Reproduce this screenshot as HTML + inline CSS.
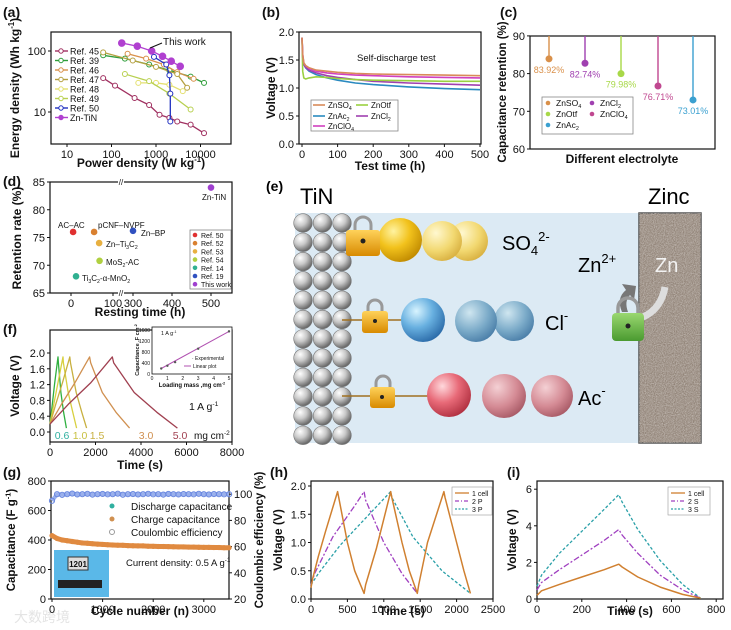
<!DOCTYPE html>
<html><head><meta charset="utf-8">
<style>
html,body{margin:0;padding:0;background:#fff;}
svg{display:block;font-family:"Liberation Sans","Noto Sans CJK SC",sans-serif;}
</style></head>
<body>
<svg id="fig" width="731" height="630" viewBox="0 0 731 630" xmlns="http://www.w3.org/2000/svg">
<defs>
<radialGradient id="gGray" cx="35%" cy="30%" r="70%"><stop offset="0" stop-color="#ffffff"/><stop offset="0.5" stop-color="#c8c8c8"/><stop offset="1" stop-color="#6a6a6a"/></radialGradient>
<radialGradient id="gYel" cx="35%" cy="30%" r="75%"><stop offset="0" stop-color="#fff3a0"/><stop offset="0.5" stop-color="#f2c21c"/><stop offset="1" stop-color="#c08a00"/></radialGradient>
<radialGradient id="gYel2" cx="35%" cy="30%" r="75%"><stop offset="0" stop-color="#fff8d0"/><stop offset="0.6" stop-color="#f2d870"/><stop offset="1" stop-color="#d8b040"/></radialGradient>
<radialGradient id="gBlu" cx="35%" cy="30%" r="75%"><stop offset="0" stop-color="#d8f4ff"/><stop offset="0.5" stop-color="#68b0e0"/><stop offset="1" stop-color="#2a6aa8"/></radialGradient>
<radialGradient id="gBlu2" cx="35%" cy="30%" r="75%"><stop offset="0" stop-color="#cfe6f0"/><stop offset="0.6" stop-color="#7aaac8"/><stop offset="1" stop-color="#4a7ea8"/></radialGradient>
<radialGradient id="gRed" cx="35%" cy="30%" r="75%"><stop offset="0" stop-color="#ffd8dc"/><stop offset="0.5" stop-color="#e86a78"/><stop offset="1" stop-color="#b03040"/></radialGradient>
<radialGradient id="gRed2" cx="35%" cy="30%" r="75%"><stop offset="0" stop-color="#f4d0d4"/><stop offset="0.6" stop-color="#d48a94"/><stop offset="1" stop-color="#a85a66"/></radialGradient>
<linearGradient id="gLock" x1="0" y1="0" x2="0" y2="1"><stop offset="0" stop-color="#ffd25a"/><stop offset="1" stop-color="#d88a00"/></linearGradient>
<linearGradient id="gLockG" x1="0" y1="0" x2="0" y2="1"><stop offset="0" stop-color="#9ad870"/><stop offset="1" stop-color="#4a9a30"/></linearGradient>
<filter id="noise" x="0" y="0" width="100%" height="100%"><feTurbulence type="fractalNoise" baseFrequency="0.9" numOctaves="2" result="n"/><feColorMatrix type="matrix" values="0 0 0 0 0.55  0 0 0 0 0.5  0 0 0 0 0.46  0 0 0 1.6 -0.4"/><feComposite in2="SourceGraphic" operator="in"/></filter>
</defs>
<rect width="731" height="630" fill="#fff"/>

<g>
  <rect x="295" y="213" width="345" height="230" fill="#dceaf4"/>
  <rect x="639" y="213" width="62" height="230" fill="#8f8175" stroke="#555" stroke-width="1.5"/>
  <rect x="639" y="213" width="62" height="230" fill="#b8aca0" filter="url(#noise)"/>
  <text x="300" y="204" font-size="22">TiN</text>
  <text x="648" y="204" font-size="22">Zinc</text>
  <g id="tinGrid"></g>
  <line x1="350" y1="238" x2="390" y2="238" stroke="#a07020" stroke-width="1.5"/>
  <circle cx="468" cy="241" r="20" fill="url(#gYel2)"/>
  <circle cx="442" cy="241" r="20" fill="url(#gYel2)"/>
  <circle cx="400" cy="240" r="22" fill="url(#gYel)"/>
  <path d="M355 231 v-6 a8 8 0 0 1 16 0 v6" fill="none" stroke="#999" stroke-width="3"/>
  <rect x="346" y="230" width="34" height="26" rx="3" fill="url(#gLock)"/>
  <circle cx="363" cy="241" r="2.5" fill="#222"/>
  <text x="502" y="250" font-size="20">SO<tspan font-size="13" dy="5">4</tspan><tspan font-size="13" dy="-14">2-</tspan></text>
  <line x1="342" y1="320" x2="412" y2="320" stroke="#a07020" stroke-width="1.5"/>
  <circle cx="514" cy="321" r="20" fill="url(#gBlu2)"/>
  <circle cx="476" cy="321" r="21" fill="url(#gBlu2)"/>
  <circle cx="423" cy="320" r="22" fill="url(#gBlu)"/>
  <path d="M368 312 v-5 a7 7 0 0 1 14 0 v5" fill="none" stroke="#999" stroke-width="3"/>
  <rect x="362" y="311" width="26" height="22" rx="3" fill="url(#gLock)"/>
  <circle cx="375" cy="321" r="2" fill="#222"/>
  <text x="545" y="330" font-size="20">Cl<tspan font-size="13" dy="-10">-</tspan></text>
  <line x1="342" y1="396" x2="430" y2="396" stroke="#a07020" stroke-width="1.5"/>
  <circle cx="552" cy="396" r="21" fill="url(#gRed2)"/>
  <circle cx="504" cy="396" r="22" fill="url(#gRed2)"/>
  <circle cx="449" cy="395" r="22" fill="url(#gRed)"/>
  <path d="M376 388 v-5 a7 7 0 0 1 14 0 v5" fill="none" stroke="#999" stroke-width="3"/>
  <rect x="370" y="387" width="25" height="21" rx="3" fill="url(#gLock)"/>
  <circle cx="382" cy="397" r="2" fill="#222"/>
  <text x="578" y="405" font-size="20">Ac<tspan font-size="13" dy="-10">-</tspan></text>
  <text x="578" y="272" font-size="20">Zn<tspan font-size="13" dy="-9">2+</tspan></text>
  <text x="655" y="272" font-size="20" fill="#f2f2f2">Zn</text>
  <path d="M665 287 q-4 22 -22 30" fill="none" stroke="#ddd" stroke-width="7"/>
  <path d="M622 312 q-6 -14 4 -22 l-4 -6 l14 2 l-2 14 l-4 -5 q-6 6 -2 17 z" fill="#777"/>
  <path d="M618 315 v-7 a10 10 0 0 1 20 0 v7" fill="none" stroke="#999" stroke-width="3.5"/>
  <rect x="612" y="313" width="32" height="28" rx="4" fill="url(#gLockG)"/>
  <circle cx="628" cy="326" r="2.5" fill="#222"/>
</g>
<text x="266" y="191" font-size="14" font-weight="bold">(e)</text>
<text x="14" y="622" font-size="14" fill="#e4e4e4">大数跨境</text>

<script>
// ===== DATA: panel (a) Ragone =====
const aSeriesNames = ["Ref. 45","Ref. 39","Ref. 46","Ref. 47","Ref. 48","Ref. 49","Ref. 50","Zn-TiN"];
const aRef45P = [65,120,330,700,1200,2000,3000,6000,12000];
const aRef45E = [36,27,17,13,9,8,7,6.2,4.5];
const aRef39P = [65,200,700,2000,6000,12000];
const aRef39E = [85,75,60,48,38,30];
const aRef46P = [230,600,1500,3000,7000];
const aRef46E = [90,75,60,45,35];
const aRef47P = [65,300,1000,3000,5000];
const aRef47E = [95,70,55,42,25];
const aRef48P = [400,1000,2000,4000];
const aRef48E = [30,30,28,22];
const aRef49P = [200,700,2000,6000];
const aRef49E = [42,32,20,11];
const aRef50P = [900,1700,2000,2100,2100];
const aRef50E = [80,60,40,20,7];
const aTiNP = [170,380,800,1400,2200,3500];
const aTiNE = [135,120,100,82,68,56];
const aXTicks = [10,100,1000,10000];
const aYTicks = [10,100];
// ===== panel (b) self-discharge =====
const bTime = [0,2,5,10,20,40,70,100,150,200,300,400,500];
const bZnSO4 = [1.9,1.6,1.45,1.4,1.36,1.32,1.3,1.28,1.26,1.25,1.24,1.23,1.22];
const bZnOtf = [1.9,1.3,1.18,1.16,1.18,1.2,1.19,1.17,1.15,1.14,1.13,1.12,1.12];
const bZnAc2 = [1.9,1.55,1.42,1.36,1.3,1.24,1.18,1.14,1.09,1.06,1.02,0.99,0.97];
const bZnCl2 = [1.9,1.55,1.42,1.37,1.32,1.27,1.22,1.19,1.15,1.12,1.09,1.07,1.05];
const bZnClO4 = [1.9,1.6,1.45,1.4,1.35,1.3,1.27,1.25,1.23,1.22,1.2,1.19,1.18];
const bXTicks = [0,100,200,300,400,500];
const bYTicks = [0,0.5,1.0,1.5,2.0];
// ===== panel (c) retention =====
const cElectrolytes = ["ZnSO4","ZnCl2","ZnOtf","ZnClO4","ZnAc2"];
const cRetention = [83.92,82.74,79.98,76.71,73.01];
const cYTicks = [60,70,80,90];
// ===== panel (d) =====
const dLabels = ["AC–AC","pCNF–NVPF","Zn–Ti_{3}C_{2}","MoS_{2}-AC","Ti_{3}C_{2}-α-MnO_{2}","Zn–BP","Zn-TiN"];
const dHours = [5,55,67,68,12,300,500];
const dRetention = [76,76,74,70.8,68,76.2,84];
const dLegend = ["Ref. 50","Ref. 52","Ref. 53","Ref. 54","Ref. 14","Ref. 19","This work"];
const dYTicks = [65,70,75,80,85];
// ===== panel (f) GCD =====
const fLoads = ["0.6","1.0","1.5","3.0","5.0"];
const fT06 = [0,100,200,350,370,480,600,720];
const fV06 = [0.2,0.7,1.2,1.9,1.75,1.0,0.5,0.1];
const fT10 = [0,150,350,570,590,800,1000,1170];
const fV10 = [0.2,0.65,1.25,1.9,1.75,1.0,0.5,0.1];
const fT15 = [0,250,550,870,900,1150,1400,1610];
const fV15 = [0.2,0.7,1.25,1.9,1.75,1.0,0.5,0.1];
const fT30 = [0,500,1100,1740,1790,2300,2900,3500];
const fV30 = [0.2,0.7,1.25,1.9,1.75,1.0,0.5,0.1];
const fT50 = [0,800,1800,2740,2800,3700,4700,5600];
const fV50 = [0.2,0.7,1.25,1.9,1.75,1.0,0.5,0.1];
const fXTicks = [0,2000,4000,6000,8000];
const fYTicks = [0,0.4,0.8,1.2,1.6,2.0];
const fInsetMass = [0.6,1.0,1.5,3.0,5.0];
const fInsetCap = [200,300,430,920,1550];
// ===== panel (g) cycling =====
const gCycles = [0,100,200,300,400,500,600,700,800,900,1000,1100,1200,1300,1400,1500,1600,1700,1800,1900,2000,2100,2200,2300,2400,2500,2600,2700,2800,2900,3000,3100,3200,3300,3400,3500];
const gCharge = [430,410,400,395,390,385,380,378,375,372,370,368,366,365,364,362,361,360,360,358,357,356,356,355,354,353,353,352,352,351,350,350,349,349,348,348];
const gCE = [95,100,99.5,100,100.5,99.8,100,100.3,99.7,100,100.2,99.9,100,100.4,99.6,100,100.1,99.8,100,100.3,99.9,100,99.7,100.2,100,99.8,100.1,100,99.9,100.3,100,99.8,100.1,100,99.9,100];
const gXTicks = [0,1000,2000,3000];
const gYTicks = [0,200,400,600,800];
const gY2Ticks = [20,40,60,80,100];
// ===== panel (h) parallel =====
const h1T = [0,20,100,200,365,380,500,600,730,750,900,1095,1110,1250,1350,1460,1480,1600,1825,1840,2000,2100,2190];
const h1V = [0.2,0.35,0.75,1.2,1.9,1.8,1.0,0.5,0.1,0.25,0.9,1.9,1.8,1.0,0.5,0.1,0.25,1.0,1.9,1.8,1.0,0.5,0.1];
const h2T = [0,50,300,600,730,750,1000,1250,1460];
const h2V = [0.25,0.45,1.1,1.65,1.9,1.75,1.0,0.45,0.1];
const h3T = [0,100,400,800,1095,1110,1400,1800,2190];
const h3V = [0.25,0.45,0.95,1.5,1.9,1.8,1.1,0.5,0.1];
const hXTicks = [0,500,1000,1500,2000,2500];
const hYTicks = [0,0.5,1.0,1.5,2.0];
// ===== panel (i) series =====
const iT = [0,20,100,200,300,365,380,450,550,650,730];
const i1V = [0.2,0.45,0.8,1.2,1.6,1.9,1.75,1.2,0.65,0.25,0.05];
const i2V = [0.5,0.9,1.6,2.4,3.2,3.8,3.5,2.5,1.3,0.5,0.05];
const i3V = [0.7,1.3,2.5,3.7,4.9,5.7,5.3,3.8,2.1,0.8,0.05];
const iXTicks = [0,200,400,600,800];
const iYTicks = [0,2,4,6];

const NS = 'http://www.w3.org/2000/svg';
const svg = document.getElementById('fig');
function mk(tag, parent){ const e = document.createElementNS(NS, tag); (parent || svg).appendChild(e); return e; }
function at(e, o){ for (const k in o) e.setAttribute(k, o[k]); return e; }
// rich text: ^{sup} and _{sub}
function fillRich(t, s, fs){
  const re = /([\^_])\{([^}]*)\}/g;
  let last = 0, m, shift = 0;
  const small = Math.round(fs * 0.65 * 10) / 10;
  function add(str, dy, size){
    if (!str) return;
    const sp = mk('tspan', t);
    if (dy) sp.setAttribute('dy', dy);
    if (size) sp.setAttribute('font-size', size);
    sp.textContent = str;
  }
  while ((m = re.exec(s)) !== null) {
    add(s.slice(last, m.index), shift ? -shift : 0, null);
    shift = 0;
    const d = m[1] === '^' ? -fs * 0.4 : fs * 0.25;
    add(m[2], d, small);
    shift = d;
    last = re.lastIndex;
  }
  const rest = s.slice(last);
  if (rest) add(rest, shift ? -shift : 0, null);
}
function txt(x, y, s, name, o){
  o = o || {};
  const fs = o.fs || 11;
  const t = mk('text');
  at(t, {x:x, y:y, 'font-size':fs, 'text-anchor':o.anchor || 'start', fill:o.fill || '#111', 'font-weight':o.bold ? 'bold' : 'normal'});
  if (o.rot) t.setAttribute('transform', 'rotate(-90 ' + x + ' ' + y + ')');
  
  
  fillRich(t, s, fs);
  return t;
}
function frame(x0, y0, x1, y1, name){
  const r = mk('rect');
  at(r, {x:x0, y:y0, width:x1 - x0, height:y1 - y0, fill:'none', stroke:'#111', 'stroke-width':1.2});
  
  
}
function xTicks(vals, sx, yb, name, fmt, fs){
  vals.forEach(function(v){
    const x = sx(v);
    const l = mk('line');
    at(l, {x1:x, y1:yb, x2:x, y2:yb + 3, stroke:'#111', 'stroke-width':1});
    
    
    txt(x, yb + 14, fmt ? fmt(v) : String(v), name + '-label', {anchor:'middle', fs:fs || 11});
  });
}
function yTicks(vals, sy, xl, name, fmt, right){
  vals.forEach(function(v){
    const y = sy(v);
    const l = mk('line');
    at(l, {x1:xl, y1:y, x2:right ? xl + 3 : xl - 3, y2:y, stroke:'#111', 'stroke-width':1});
    
    
    txt(right ? xl + 5 : xl - 5, y + 4, fmt ? fmt(v) : String(v), name + '-label', {anchor:right ? 'start' : 'end'});
  });
}
function line(xs, ys, sx, sy, color, name, o){
  o = o || {};
  const p = mk('polyline');
  at(p, {points: xs.map(function(v, i){ return sx(v).toFixed(1) + ',' + sy(ys[i]).toFixed(1); }).join(' '), fill:'none', stroke:color, 'stroke-width':o.w || 1.4, 'stroke-dasharray':o.dash || 'none', 'stroke-linejoin':'round'});
  
  
  return p;
}
function dot(x, y, r, fill, stroke, name){
  const c = mk('circle');
  at(c, {cx:x, cy:y, r:r, fill:fill, stroke:stroke || 'none', 'stroke-width':1});
  
  
  return c;
}
function fmt1(v){ return v.toFixed(1); }

const grid = document.getElementById('tinGrid');
for (let r = 0; r < 12; r++) for (let c = 0; c < 3; c++) {
  const s = mk('circle', grid);
  at(s, {cx:303 + c * 19.5, cy:223 + r * 19.3, r:9.3, fill:'url(#gGray)', stroke:'#777', 'stroke-width':0.6});
  
  
}

txt(3, 17, '(a)', 'panel-label-a', {fs:14, bold:true});
txt(262, 17, '(b)', 'panel-label-b', {fs:14, bold:true});
txt(500, 17, '(c)', 'panel-label-c', {fs:14, bold:true});
txt(3, 186, '(d)', 'panel-label-d', {fs:14, bold:true});
txt(3, 334, '(f)', 'panel-label-f', {fs:14, bold:true});
txt(3, 477, '(g)', 'panel-label-g', {fs:14, bold:true});
txt(270, 477, '(h)', 'panel-label-h', {fs:14, bold:true});
txt(507, 477, '(i)', 'panel-label-i', {fs:14, bold:true});

// ================= (a) =================
(function(){
  const sx = function(v){ return 67 + (Math.log10(v) - 1) * 44.5; };
  const sy = function(v){ return 51 + (2 - Math.log10(v)) * 61; };
  frame(51, 32, 231, 144, 'plot-a-frame');
  xTicks(aXTicks, sx, 144, 'a-x-axis');
  yTicks(aYTicks, sy, 51, 'a-y-axis');
  txt(141, 167, 'Power density (W kg^{-1})', 'a-x-axis-title', {anchor:'middle', bold:true, fs:12});
  txt(19, 88, 'Energy density (Wh kg^{-1})', 'a-y-axis-title', {anchor:'middle', bold:true, fs:12, rot:true});
  const sets = [[aRef45P,aRef45E,'#a03060'],[aRef39P,aRef39E,'#2e9e3a'],[aRef46P,aRef46E,'#d9904a'],[aRef47P,aRef47E,'#b5a040'],[aRef48P,aRef48E,'#e4e070'],[aRef49P,aRef49E,'#b8d050'],[aRef50P,aRef50E,'#2030c0'],[aTiNP,aTiNE,'#b040d0']];
  sets.forEach(function(s, k){
    line(s[0], s[1], sx, sy, s[2], 'a-series-' + k, {w:1.3});
    s[0].forEach(function(v, i){
      dot(sx(v), sy(s[1][i]), k === 7 ? 3.3 : 2.5, k === 7 ? s[2] : '#fff', s[2], 'a-point');
    });
    const ly = 51 + k * 9.5;
    line([0,1], [0,0], function(t){ return 55 + t * 13; }, function(){ return ly; }, s[2], 'a-legend-line', {w:1.4});
    dot(61, ly, 2.2, k === 7 ? s[2] : '#fff', s[2], 'a-legend-marker');
    txt(70, ly + 3.5, aSeriesNames[k], 'a-legend-entry', {fs:9});
  });
  txt(163, 45, 'This work', 'a-annotation-this-work', {fs:10});
  const ar = mk('line'); at(ar, {x1:162, y1:43, x2:150, y2:48, stroke:'#111', 'stroke-width':1});
  
  
})();

// ================= (b) =================
(function(){
  const sx = function(v){ return 302 + v * 0.356; };
  const sy = function(v){ return 144 - v * 56; };
  frame(299, 32, 481, 144, 'plot-b-frame');
  xTicks(bXTicks, sx, 144, 'b-x-axis');
  yTicks(bYTicks, sy, 299, 'b-y-axis', fmt1);
  txt(390, 170, 'Test time (h)', 'b-x-axis-title', {anchor:'middle', bold:true, fs:12});
  txt(275, 88, 'Voltage (V)', 'b-y-axis-title', {anchor:'middle', bold:true, fs:12, rot:true});
  txt(357, 61, 'Self-discharge test', 'b-annotation', {fs:9.5});
  const ser = [[bZnAc2,'#2a8ac0','ZnAc_{2}'],[bZnCl2,'#a040b0','ZnCl_{2}'],[bZnOtf,'#9ad040','ZnOtf'],[bZnClO4,'#d040c0','ZnClO_{4}'],[bZnSO4,'#d98a5a','ZnSO_{4}']];
  ser.forEach(function(s, k){ line(bTime, s[0], sx, sy, s[1], 'b-curve-' + k, {w:1.6}); });
  const box = mk('rect'); at(box, {x:311, y:100, width:87, height:31, fill:'#fff', stroke:'#888', 'stroke-width':0.8});
  
  
  const pos = [[313,119],[356,119],[356,108],[313,129],[313,108]];
  ser.forEach(function(s, k){
    const p = pos[k];
    line([0,1],[0,0], function(t){ return p[0] + t * 12; }, function(){ return p[1] - 3; }, s[1], 'b-legend-line', {w:1.6});
    txt(p[0] + 15, p[1], s[2], 'b-legend-entry', {fs:8});
  });
})();

// ================= (c) =================
(function(){
  const sy = function(v){ return 149 - (v - 60) * 3.77; };
  const xs = [549,585,621,658,693];
  const cols = ['#d9904a','#a040b0','#a8d848','#c04890','#3aa0d0'];
  frame(530, 36, 715, 149, 'plot-c-frame');
  yTicks(cYTicks, sy, 530, 'c-y-axis');
  txt(622, 163, 'Different electrolyte', 'c-x-axis-title', {anchor:'middle', bold:true, fs:12});
  txt(506, 92, 'Capacitance retention (%)', 'c-y-axis-title', {anchor:'middle', bold:true, fs:11.5, rot:true});
  cRetention.forEach(function(v, i){
    const l = mk('line'); at(l, {x1:xs[i], y1:36, x2:xs[i], y2:sy(v), stroke:cols[i], 'stroke-width':1.4});
    
    
    dot(xs[i], sy(v), 3.5, cols[i], 'none', 'c-point');
    txt(xs[i], sy(v) + 14, v.toFixed(2) + '%', 'c-value-label', {anchor:'middle', fs:9, fill:cols[i]});
  });
  const box = mk('rect'); at(box, {x:542, y:97, width:91, height:37, fill:'#fff', stroke:'#888', 'stroke-width':0.8});
  
  
  const leg = [['ZnSO_{4}',0,548,106],['ZnCl_{2}',1,592,106],['ZnOtf',2,548,117],['ZnClO_{4}',3,592,117],['ZnAc_{2}',4,548,128]];
  leg.forEach(function(e){
    dot(e[2], e[3] - 3, 2.3, cols[e[1]], 'none', 'c-legend-marker');
    txt(e[2] + 8, e[3], e[0], 'c-legend-entry', {fs:8.5});
  });
})();

// ================= (d) =================
(function(){
  const sxd = function(v){ return v < 200 ? 71 + v * 0.42 : 133 + (v - 300) * 0.39; };
  const sy = function(v){ return 293 - (v - 65) * 5.55; };
  const cols = ['#e03030','#d98030','#e8b040','#b0d040','#30b090','#3050c0','#a040d0'];
  frame(50, 182, 232, 293, 'plot-d-frame');
  xTicks([0,100,300,400,500], sxd, 293, 'd-x-axis');
  yTicks(dYTicks, sy, 50, 'd-y-axis');
  [182,293].forEach(function(y){
    const b = mk('rect'); at(b, {x:118, y:y - 3, width:6, height:6, fill:'#fff'});
    
    
    txt(121, y + 3, '//', 'd-axis-break', {anchor:'middle', fs:8});
  });
  txt(140, 316, 'Resting time (h)', 'd-x-axis-title', {anchor:'middle', bold:true, fs:12});
  txt(21, 238, 'Retention rate (%)', 'd-y-axis-title', {anchor:'middle', bold:true, fs:12, rot:true});
  const lab = [[58,228],[98,228],[106,247],[106,265],[82,281],[141,236],[202,200]];
  dHours.forEach(function(h, i){
    dot(sxd(h), sy(dRetention[i]), 3.3, cols[i], 'none', 'd-point');
    txt(lab[i][0], lab[i][1], dLabels[i], 'd-point-label', {fs:8});
  });
  const box = mk('rect'); at(box, {x:190, y:230, width:41, height:59, fill:'#fff', stroke:'#888', 'stroke-width':0.8});
  
  
  dLegend.forEach(function(n, i){
    dot(195, 235 + i * 8.2, 2.3, cols[i], 'none', 'd-legend-marker');
    txt(201, 238 + i * 8.2, n, 'd-legend-entry', {fs:7});
  });
})();

// ================= (f) =================
(function(){
  const sx = function(v){ return 50 + v * 0.02275; };
  const sy = function(v){ return 432 - v * 39.5; };
  frame(50, 330, 232, 442, 'plot-f-frame');
  xTicks(fXTicks, sx, 442, 'f-x-axis');
  yTicks(fYTicks, sy, 50, 'f-y-axis', fmt1);
  txt(140, 469, 'Time (s)', 'f-x-axis-title', {anchor:'middle', bold:true, fs:12});
  txt(19, 386, 'Voltage (V)', 'f-y-axis-title', {anchor:'middle', bold:true, fs:12, rot:true});
  const sets = [[fT06,fV06,'#30b040',62,'#30b0a0'],[fT10,fV10,'#d8d040',80,'#c8c040'],[fT15,fV15,'#c8b040',97,'#c8b040'],[fT30,fV30,'#d09050',146,'#d09050'],[fT50,fV50,'#a04050',180,'#a04050']];
  sets.forEach(function(s, k){
    line(s[0], s[1], sx, sy, s[2], 'f-gcd-curve-' + fLoads[k], {w:1.3});
    txt(s[3], 439, fLoads[k], 'f-load-label', {anchor:'middle', fs:10.5, fill:s[4]});
  });
  txt(194, 439, 'mg cm^{-2}', 'f-unit-label', {fs:10});
  txt(189, 410, '1 A g^{-1}', 'f-current-label', {fs:10.5});
  const ix = function(v){ return 152 + v * 15.4; };
  const iy = function(v){ return 374 - v * 0.0275; };
  const bg = mk('rect'); at(bg, {x:152, y:327, width:80, height:47, fill:'#fff', stroke:'#111', 'stroke-width':0.8});
  
  
  [0,1,2,3,4,5].forEach(function(v){ txt(ix(v), 380, String(v), 'f-inset-x-label', {anchor:'middle', fs:5}); });
  [0,400,800,1200,1600].forEach(function(v){ txt(150, iy(v) + 2, String(v), 'f-inset-y-label', {anchor:'end', fs:5}); });
  txt(192, 387, 'Loading mass ,mg cm^{-2}', 'f-inset-x-title', {anchor:'middle', fs:6, bold:true});
  txt(139, 350, 'Capacitance ,F cm^{-2}', 'f-inset-y-title', {anchor:'middle', fs:5.5, bold:true, rot:true});
  line([fInsetMass[0], fInsetMass[4]], [fInsetCap[0], fInsetCap[4]], ix, iy, '#b050b0', 'f-inset-fit-line', {w:1});
  fInsetMass.forEach(function(m, i){ dot(ix(m), iy(fInsetCap[i]), 1.2, '#555', 'none', 'f-inset-point'); });
  txt(161, 335, '1 A g^{-1}', 'f-inset-note', {fs:5.5});
  txt(192, 360, '· Experimental', 'f-inset-legend-exp', {fs:5});
  line([0,1],[0,0], function(t){ return 184 + t * 7; }, function(){ return 366; }, '#b050b0', 'f-inset-legend-line', {w:1});
  txt(193, 368, 'Linear plot', 'f-inset-legend-fit', {fs:5});
})();

// ================= (g) =================
(function(){
  const sx = function(v){ return 52 + v * 0.0506; };
  const sy = function(v){ return 599 - v * 0.1475; };
  const sy2 = function(v){ return 599 - (v - 20) * 1.31; };
  frame(51, 481, 229, 599, 'plot-g-frame');
  xTicks(gXTicks, sx, 599, 'g-x-axis');
  yTicks(gYTicks, sy, 51, 'g-y-axis');
  yTicks(gY2Ticks, sy2, 229, 'g-y2-axis', null, true);
  txt(140, 615, 'Cycle number (n)', 'g-x-axis-title', {anchor:'middle', bold:true, fs:12});
  txt(15, 540, 'Capacitance (F g^{-1})', 'g-y-axis-title', {anchor:'middle', bold:true, fs:11.5, rot:true});
  txt(263, 540, 'Coulombic efficiency (%)', 'g-y2-axis-title', {anchor:'middle', bold:true, fs:11.5, rot:true});
  line(gCycles, gCE, sx, sy2, '#9ab0ec', 'g-coulombic-band', {w:4});
  gCycles.forEach(function(c, i){ dot(sx(c), sy2(gCE[i]), 2.6, 'none', '#6a88e0', 'g-coulombic-point'); });
  line(gCycles, gCharge, sx, sy, '#e08a40', 'g-charge-band', {w:5});
  gCycles.forEach(function(c, i){ dot(sx(c), sy(gCharge[i]), 2.6, '#e08a40', 'none', 'g-charge-point'); });
  dot(112, 506, 2.5, '#30b0a0', 'none', 'g-legend-discharge-marker');
  txt(131, 510, 'Discharge capacitance', 'g-legend-discharge', {fs:10});
  dot(112, 519, 2.5, '#d09050', 'none', 'g-legend-charge-marker');
  txt(131, 523, 'Charge capacitance', 'g-legend-charge', {fs:10});
  dot(112, 532, 2.5, 'none', '#999', 'g-legend-ce-marker');
  txt(131, 536, 'Coulombic efficiency', 'g-legend-ce', {fs:10});
  txt(126, 566, 'Current density: 0.5 A g^{-1}', 'g-current-label', {fs:9.5});
  const ph = mk('rect'); at(ph, {x:54, y:550, width:55, height:47, fill:'#5ab8e8'});
  
  
  const dv = mk('rect'); at(dv, {x:58, y:580, width:44, height:8, fill:'#222'});
  
  
  const lcd = mk('rect'); at(lcd, {x:68, y:557, width:20, height:13, fill:'#ddd', stroke:'#333'});
  
  
  txt(78, 567, '1201', 'g-photo-display-text', {anchor:'middle', fs:8, bold:true});
})();

// ================= (h) =================
(function(){
  const sx = function(v){ return 311 + v * 0.0728; };
  const sy = function(v){ return 599 - v * 56.5; };
  frame(311, 481, 493, 599, 'plot-h-frame');
  xTicks(hXTicks, sx, 599, 'h-x-axis');
  yTicks(hYTicks, sy, 311, 'h-y-axis', fmt1);
  txt(402, 615, 'Time (s)', 'h-x-axis-title', {anchor:'middle', bold:true, fs:12});
  txt(282, 540, 'Voltage (V)', 'h-y-axis-title', {anchor:'middle', bold:true, fs:12, rot:true});
  line(h3T, h3V, sx, sy, '#2aa0a8', 'h-curve-3p', {w:1.3, dash:'3 2'});
  line(h2T, h2V, sx, sy, '#a040c0', 'h-curve-2p', {w:1.3, dash:'6 2 2 2'});
  line(h1T, h1V, sx, sy, '#d08030', 'h-curve-1cell', {w:1.5});
  const box = mk('rect'); at(box, {x:452, y:487, width:40, height:28, fill:'#fff', stroke:'#999', 'stroke-width':0.6});
  
  
  const lg = [['1 cell','#d08030','none'],['2 P','#a040c0','4 2 1 2'],['3 P','#2aa0a8','2 1.5']];
  lg.forEach(function(e, k){
    line([0,1],[0,0], function(t){ return 455 + t * 14; }, function(){ return 493 + k * 8; }, e[1], 'h-legend-line', {w:1.3, dash:e[2]});
    txt(472, 496 + k * 8, e[0], 'h-legend-entry', {fs:7});
  });
})();

// ================= (i) =================
(function(){
  const sx = function(v){ return 537 + v * 0.224; };
  const sy = function(v){ return 599 - v * 18.3; };
  frame(537, 481, 723, 599, 'plot-i-frame');
  xTicks(iXTicks, sx, 599, 'i-x-axis');
  yTicks(iYTicks, sy, 537, 'i-y-axis');
  txt(630, 615, 'Time (s)', 'i-x-axis-title', {anchor:'middle', bold:true, fs:12});
  txt(516, 540, 'Voltage (V)', 'i-y-axis-title', {anchor:'middle', bold:true, fs:12, rot:true});
  line(iT, i3V, sx, sy, '#2aa0a8', 'i-curve-3s', {w:1.3, dash:'3 2'});
  line(iT, i2V, sx, sy, '#a040c0', 'i-curve-2s', {w:1.3, dash:'6 2 2 2'});
  line(iT, i1V, sx, sy, '#d08030', 'i-curve-1cell', {w:1.5});
  const box = mk('rect'); at(box, {x:668, y:487, width:42, height:28, fill:'#fff', stroke:'#999', 'stroke-width':0.6});
  
  
  const lg = [['1 cell','#d08030','none'],['2 S','#a040c0','4 2 1 2'],['3 S','#2aa0a8','2 1.5']];
  lg.forEach(function(e, k){
    line([0,1],[0,0], function(t){ return 671 + t * 14; }, function(){ return 493 + k * 8; }, e[1], 'i-legend-line', {w:1.3, dash:e[2]});
    txt(688, 496 + k * 8, e[0], 'i-legend-entry', {fs:7});
  });
})();
</script>
</svg>
</body></html>
